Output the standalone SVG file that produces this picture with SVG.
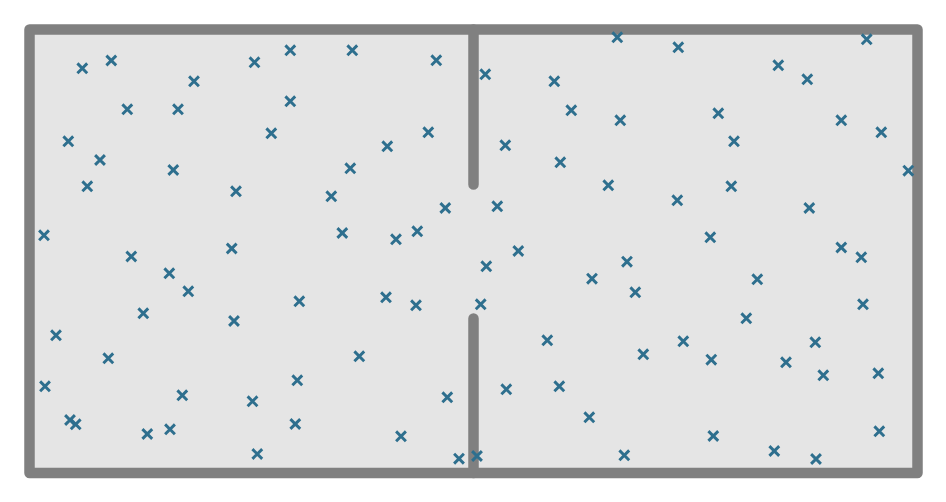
<svg xmlns="http://www.w3.org/2000/svg" xmlns:xlink="http://www.w3.org/1999/xlink" width="946" height="502" viewBox="0 0 946 502">
<style>
.wall{fill:none;stroke:#808080;stroke-width:10.5;stroke-linecap:round;stroke-linejoin:round}
.x{fill:none;stroke:#2e6f8e;stroke-width:2.9}
</style>
<defs><path id="x" class="x" d="M-4.9,-4.9L4.9,4.9M-4.9,4.9L4.9,-4.9"/></defs>
<rect width="946" height="502" fill="#ffffff"/>
<g id="room">
<rect x="29.5" y="29.5" width="888" height="443.5" fill="#e5e5e5"/>
<path class="wall" d="M29.5,29.5H917.5V473H29.5Z"/>
<path class="wall" d="M473.5,29.5V184.5M473.5,318.5V473"/>
</g>
<g id="points">
<use href="#x" x="82.3" y="68.3"/><use href="#x" x="111.3" y="60.5"/><use href="#x" x="194" y="81.3"/><use href="#x" x="254.5" y="62.3"/><use href="#x" x="290.3" y="50.3"/><use href="#x" x="352.3" y="50.3"/><use href="#x" x="436.3" y="60.3"/>
<use href="#x" x="127.3" y="109.3"/><use href="#x" x="178" y="109.3"/><use href="#x" x="290.3" y="101.3"/>
<use href="#x" x="68.3" y="141.3"/><use href="#x" x="271.3" y="133.3"/><use href="#x" x="428.3" y="132.3"/><use href="#x" x="387.3" y="146.3"/>
<use href="#x" x="100" y="160"/><use href="#x" x="173.3" y="170"/><use href="#x" x="350.3" y="168.3"/>
<use href="#x" x="87.3" y="186.3"/><use href="#x" x="236" y="191.3"/><use href="#x" x="331.3" y="196.3"/><use href="#x" x="445.3" y="208"/>
<use href="#x" x="44" y="235.3"/><use href="#x" x="342.3" y="233"/><use href="#x" x="396" y="239.3"/><use href="#x" x="417.3" y="231.3"/><use href="#x" x="231.7" y="248.5"/>
<use href="#x" x="131.3" y="256.5"/><use href="#x" x="169.3" y="273.3"/><use href="#x" x="188.3" y="291.3"/>
<use href="#x" x="143.3" y="313.3"/><use href="#x" x="299.3" y="301.3"/><use href="#x" x="386" y="297.3"/><use href="#x" x="416" y="305.3"/><use href="#x" x="234" y="321"/>
<use href="#x" x="56" y="335.3"/><use href="#x" x="108.3" y="358.3"/><use href="#x" x="359.3" y="356.3"/>
<use href="#x" x="45" y="386.3"/><use href="#x" x="297.3" y="380.3"/><use href="#x" x="182.3" y="395.3"/><use href="#x" x="252.5" y="401.3"/><use href="#x" x="447.3" y="397.3"/>
<use href="#x" x="70" y="420"/><use href="#x" x="75.7" y="424.3"/><use href="#x" x="295.3" y="424"/><use href="#x" x="170" y="429.3"/><use href="#x" x="147.3" y="434"/><use href="#x" x="401" y="436.3"/>
<use href="#x" x="257.3" y="454"/><use href="#x" x="459" y="458.7"/>
<use href="#x" x="617.3" y="37.3"/><use href="#x" x="678.3" y="47.3"/><use href="#x" x="778.3" y="65.3"/><use href="#x" x="807.3" y="79.3"/><use href="#x" x="866.7" y="39.3"/>
<use href="#x" x="485.3" y="74.3"/><use href="#x" x="554.3" y="81.3"/>
<use href="#x" x="571.3" y="110.3"/><use href="#x" x="620.3" y="120.3"/><use href="#x" x="718.3" y="113.3"/><use href="#x" x="841.3" y="120.3"/><use href="#x" x="881.3" y="132.3"/>
<use href="#x" x="505.3" y="145.3"/><use href="#x" x="734" y="141.3"/>
<use href="#x" x="560.3" y="162.3"/><use href="#x" x="908.3" y="170.7"/>
<use href="#x" x="608.3" y="185.3"/><use href="#x" x="731.3" y="186.3"/>
<use href="#x" x="497.3" y="206.3"/><use href="#x" x="677.3" y="200.3"/><use href="#x" x="809.3" y="208"/>
<use href="#x" x="710.3" y="237.3"/><use href="#x" x="841.3" y="247.5"/><use href="#x" x="861.3" y="257.3"/>
<use href="#x" x="518.3" y="251"/><use href="#x" x="486.3" y="266.3"/><use href="#x" x="627" y="261.7"/>
<use href="#x" x="592" y="278.7"/><use href="#x" x="757.3" y="279.3"/><use href="#x" x="635.3" y="292.3"/>
<use href="#x" x="480.7" y="304.3"/><use href="#x" x="863" y="304.3"/><use href="#x" x="746.3" y="318.3"/>
<use href="#x" x="547.3" y="340.3"/><use href="#x" x="683.3" y="341.3"/><use href="#x" x="815.3" y="342.3"/>
<use href="#x" x="643.3" y="354.3"/><use href="#x" x="711.3" y="359.7"/><use href="#x" x="786" y="362.3"/>
<use href="#x" x="823.3" y="375.3"/><use href="#x" x="878.3" y="373.3"/>
<use href="#x" x="559.3" y="386.3"/><use href="#x" x="506.3" y="389.3"/><use href="#x" x="589.3" y="417.3"/>
<use href="#x" x="713.3" y="436"/><use href="#x" x="879.3" y="431.3"/>
<use href="#x" x="624.3" y="455.3"/><use href="#x" x="774.3" y="451"/><use href="#x" x="816" y="459"/><use href="#x" x="477" y="456"/>
</g>
</svg>
